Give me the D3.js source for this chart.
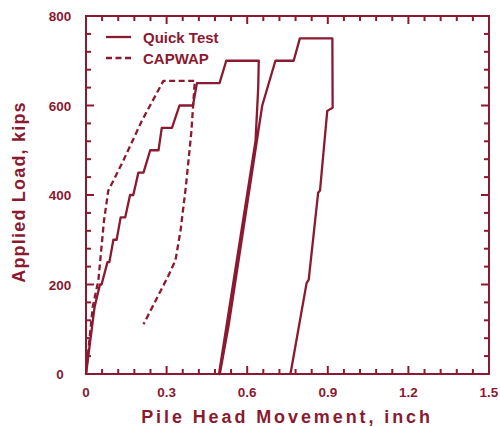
<!DOCTYPE html>
<html lang="en">
<head>
<meta charset="utf-8">
<title>Applied Load vs Pile Head Movement</title>
<script src="https://d3js.org/d3.v7.min.js"></script>
<style>
  body { margin: 0; background: #fff; }
  text { font-family: "Liberation Sans", Arial, sans-serif; fill: #8b1a30; }
  .line { fill: none; stroke: #8b1a30; stroke-width: 2.3px; stroke-linejoin: round; }
  .tk { stroke: #8b1a30; stroke-width: 2px; }
</style>
</head>
<body>
<script>
const w = 500, h = 427;
const color = "#8b1a30";

// Quick Test: load / unload / reload / unload (inch, kips)
const quickX = [0, 0.032, 0.052, 0.058, 0.080, 0.087, 0.102, 0.114, 0.129, 0.146, 0.164, 0.176,
  0.195, 0.214, 0.239, 0.270, 0.282, 0.320, 0.348, 0.398, 0.413, 0.497, 0.522, 0.643,
  0.641, 0.631, 0.495,
  0.498, 0.531, 0.656, 0.705, 0.773, 0.796, 0.917,
  0.918, 0.898, 0.871, 0.864, 0.829, 0.821, 0.761];
const quickY = [0, 150, 200, 200, 250, 250, 300, 300, 350, 350, 400, 400,
  450, 450, 500, 500, 550, 550, 600, 600, 650, 650, 700, 700,
  640, 521, 0,
  0, 109, 600, 700, 700, 750, 750,
  595, 588, 410, 405, 211, 203, 0];

// CAPWAP simulated curve
const capX = [0, 0.025, 0.046, 0.067, 0.083, 0.102, 0.139, 0.208, 0.288, 0.405,
  0.392, 0.372, 0.352, 0.333, 0.307, 0.214];
const capY = [0, 150, 209, 343, 410, 432, 477, 566, 655, 655,
  540, 420, 321, 254, 220, 111];

const xMajor = [0, 0.3, 0.6, 0.9, 1.2, 1.5];
const yMajor = [0, 200, 400, 600, 800];

const mLeft = 86, mRight = 489, mTop = 16, mBottom = 374;

const x = d3.scaleLinear().domain([0, 1.5]).range([mLeft, mRight]);
const y = d3.scaleLinear().domain([0, 800]).range([mBottom, mTop]);

const svg = d3.select("body").append("svg")
  .attr("width", w).attr("height", h);

// frame
svg.append("rect")
  .attr("x", mLeft).attr("y", mTop)
  .attr("width", mRight - mLeft).attr("height", mBottom - mTop)
  .attr("fill", "none").attr("stroke", color).attr("stroke-width", 2);

// inward ticks on all four sides, every 0.06 inch / 40 kips
const xTicks = d3.range(0, 26).map(i => i * 0.06);
const yTicks = d3.range(0, 21).map(i => i * 40);
const isMajorX = d => Math.abs(d / 0.3 - Math.round(d / 0.3)) < 1e-6;
const isMajorY = d => d % 200 === 0;

const xtData = [];
xTicks.forEach(d => { xtData.push({v: d, y0: mBottom, dir: -1}); xtData.push({v: d, y0: mTop, dir: 1}); });
svg.selectAll("line.tkx").data(xtData).enter().append("line")
  .attr("class", "tk tkx")
  .attr("x1", d => x(d.v)).attr("x2", d => x(d.v))
  .attr("y1", d => d.y0)
  .attr("y2", d => d.y0 + d.dir * (isMajorX(d.v) ? 8 : 5));

const ytData = [];
yTicks.forEach(d => { ytData.push({v: d, x0: mLeft, dir: 1}); ytData.push({v: d, x0: mRight, dir: -1}); });
svg.selectAll("line.tky").data(ytData).enter().append("line")
  .attr("class", "tk tky")
  .attr("y1", d => y(d.v)).attr("y2", d => y(d.v))
  .attr("x1", d => d.x0)
  .attr("x2", d => d.x0 + d.dir * (isMajorY(d.v) ? 8 : 5));

// tick labels
svg.append("g").selectAll("text").data(xMajor).enter().append("text")
  .attr("x", d => x(d)).attr("y", mBottom + 23)
  .attr("text-anchor", "middle")
  .attr("font-size", "13.5px").attr("font-weight", "bold")
  .text(d => d === 0 ? "0" : d3.format(".1f")(d));

svg.append("g").selectAll("text").data(yMajor).enter().append("text")
  .attr("x", 60).attr("y", d => y(d) + 5)
  .attr("text-anchor", "middle")
  .attr("font-size", "13.5px").attr("font-weight", "bold")
  .text(d => d);

// lines
const line = d3.line().x(d => x(d[0])).y(d => y(d[1]));

svg.append("path")
  .attr("class", "line")
  .attr("d", line(d3.zip(quickX, quickY)));

svg.append("path")
  .attr("class", "line")
  .attr("stroke-dasharray", "6,3.5")
  .attr("d", line(d3.zip(capX, capY)));

// legend
svg.append("line").attr("x1", 106).attr("x2", 131).attr("y1", 37).attr("y2", 37)
  .attr("stroke", color).attr("stroke-width", 2.3);
svg.append("text").attr("x", 143).attr("y", 43).attr("font-size", "15px")
  .attr("font-weight", "bold").text("Quick Test");
svg.append("line").attr("x1", 106).attr("x2", 131).attr("y1", 58).attr("y2", 58)
  .attr("stroke", color).attr("stroke-width", 2.3).attr("stroke-dasharray", "6,3.5");
svg.append("text").attr("x", 143).attr("y", 64).attr("font-size", "15px")
  .attr("font-weight", "bold").text("CAPWAP");

// axis titles
svg.append("text")
  .attr("x", 287).attr("y", 423)
  .attr("text-anchor", "middle")
  .attr("font-size", "18px")
  .attr("font-weight", "bold")
  .attr("letter-spacing", "2.9px")
  .text("Pile Head Movement, inch");

svg.append("text")
  .attr("transform", "translate(25,192) rotate(-90)")
  .attr("text-anchor", "middle")
  .attr("font-size", "18px")
  .attr("font-weight", "bold")
  .attr("letter-spacing", "1.2px")
  .text("Applied Load, kips");
</script>
</body>
</html>
